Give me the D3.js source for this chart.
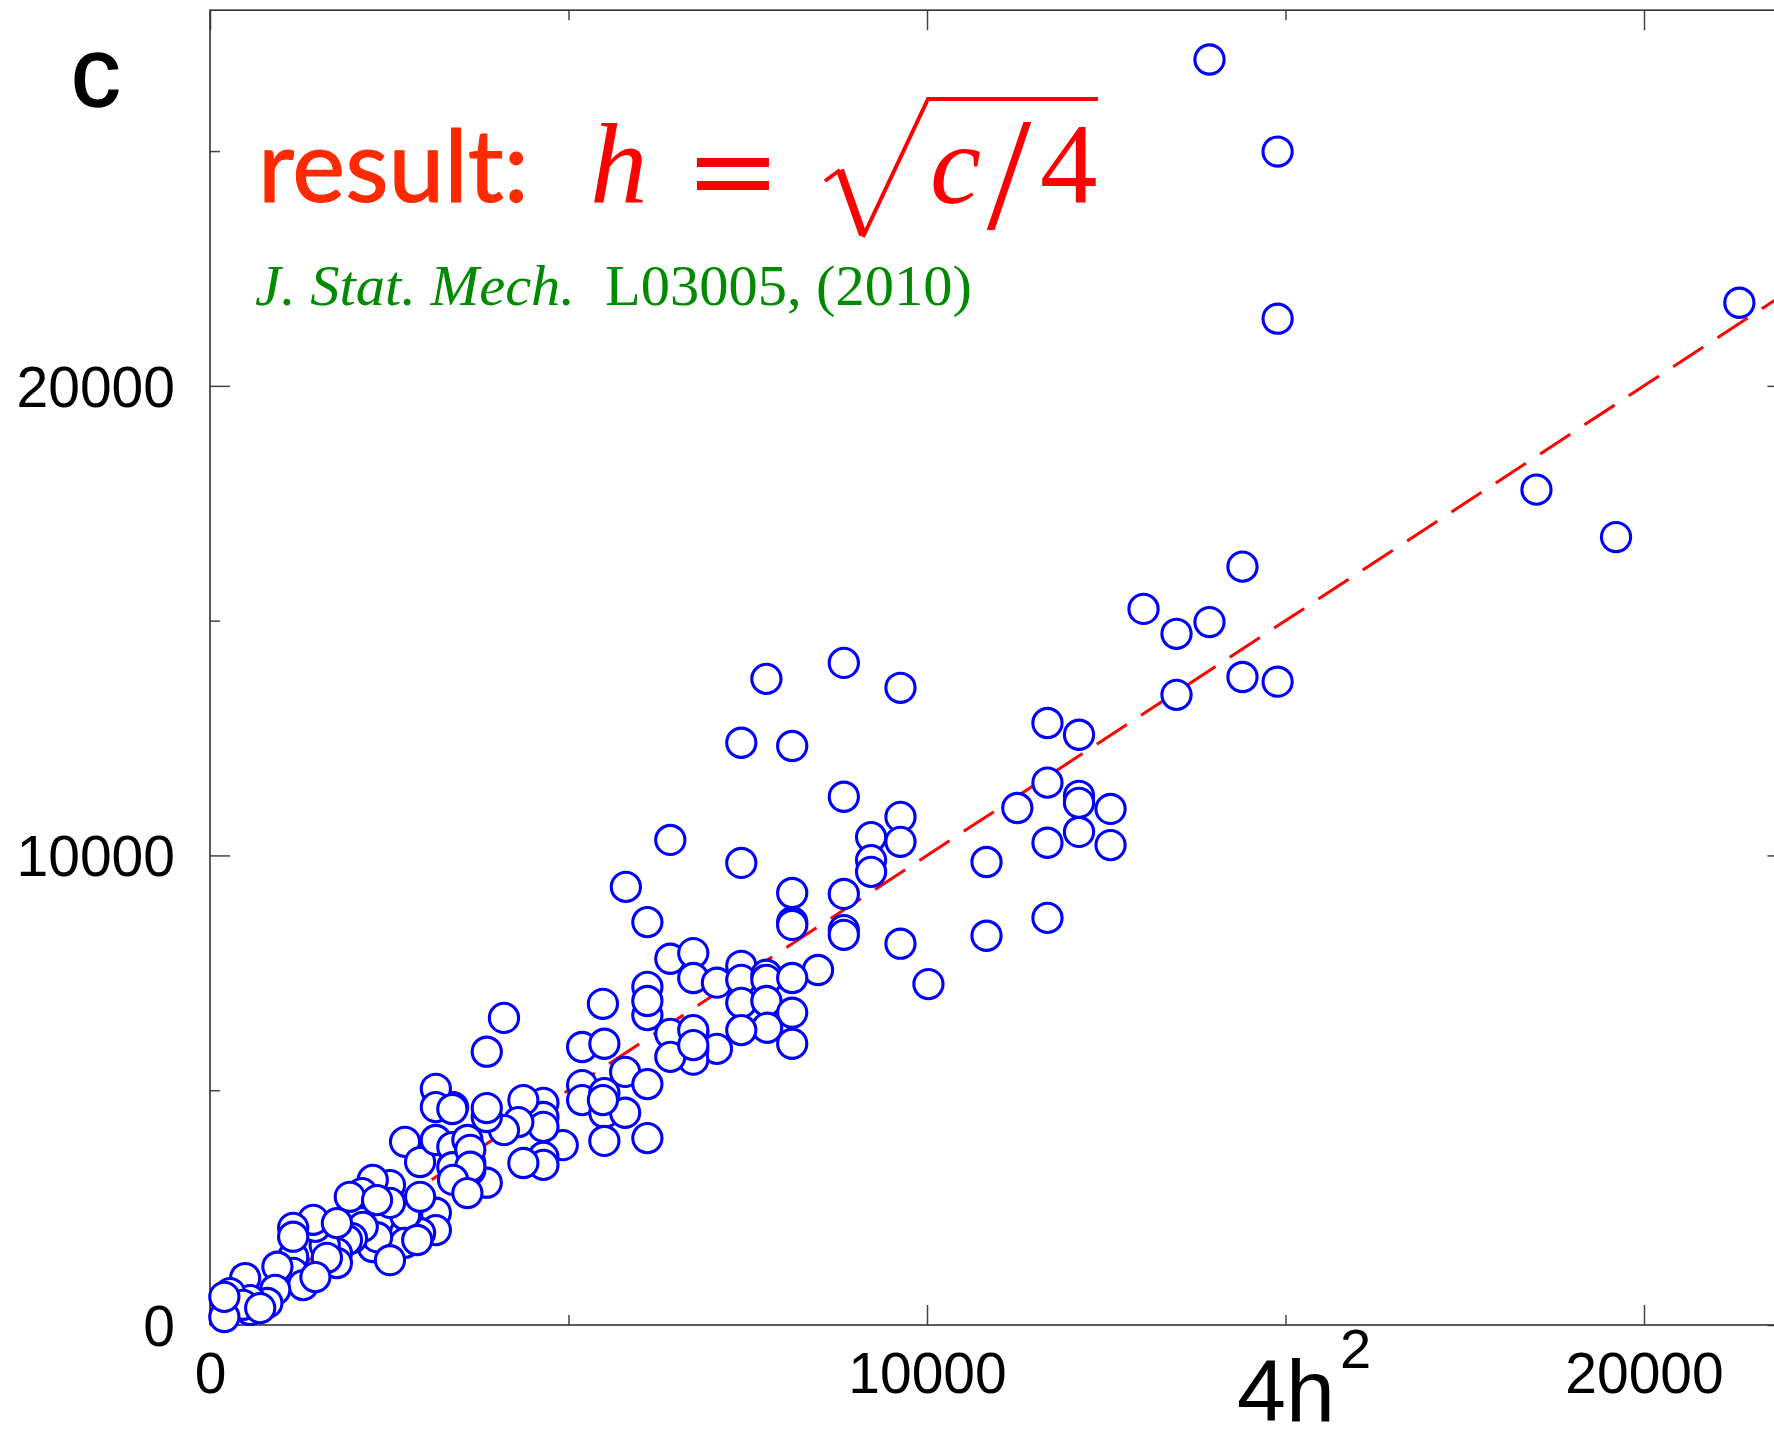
<!DOCTYPE html>
<html>
<head>
<meta charset="utf-8">
<script src="https://cdn.jsdelivr.net/npm/d3@7"></script>
<style>
  body { margin: 0; background: #fff; }
</style>
</head>
<body>
<div id="chart"></div>
<script>
var w = 1774;
var h = 1441;

// x = 4h^2 , y = c  (one pair per circle)
var fourH2 = [13940, 14890, 14890, 21330, 18500, 19610, 14400, 13020, 13480, 13940,
  13480, 14400, 14890, 11680, 12120, 11680, 11260, 12120, 12120, 12560,
  12120, 11680, 12560, 10830, 11680, 10830, 7760, 8840, 9630, 7410,
  8120, 8840, 6420, 7410, 5800, 6100, 9220, 9630, 9630, 9220,
  9220, 8120, 8120, 8120, 8840, 8840, 8840, 9630, 10020, 8480,
  6420, 6740, 6740, 6100, 7070, 7410, 7410, 7760, 7760, 8120,
  7410, 7760, 8120, 5480, 6100, 8120, 7770, 7410, 7070, 6740,
  6740, 6740, 6420, 6420, 4100, 3860, 5190, 5500, 5790, 6100,
  5190, 5190, 5500, 5500, 5790, 5500, 6100, 4920, 4650, 4650,
  4650, 4650, 4650, 4370, 4300, 4370, 4100, 3860, 3860, 3630,
  3630, 3390, 3390, 3150, 3150, 3380, 3860, 5480, 6100, 6740,
  6740, 2720, 2930, 3150, 3380, 3380, 3590, 3630, 3630, 3390,
  3590, 3150, 3150, 2930, 2750, 2720, 2720, 2930, 2510, 2510,
  2270, 2120, 1950, 2330, 2510, 2720, 2890, 2270, 2330, 2130,
  1980, 1910, 1770, 1770, 1600, 1630, 1470, 1440, 1160, 1160,
  1160, 1300, 1470, 940, 910, 800, 490, 560, 560, 280,
  460, 200, 1770, 700, 1160, 2510, 200];

var cVals = [26950, 24990, 21430, 21770, 17790, 16780, 16150, 15250, 14720, 14970,
  13420, 13800, 13700, 12820, 12570, 11550, 11010, 11270, 11120, 10990,
  10500, 10270, 10220, 9860, 8670, 8290, 13760, 14100, 13570, 12400,
  12330, 11250, 10330, 9840, 9330, 8580, 10390, 10820, 10290, 9900,
  9650, 9200, 8580, 8520, 9180, 8410, 8310, 8120, 7260, 7560,
  7800, 7920, 7390, 7200, 7290, 7650, 7350, 7460, 7350, 7390,
  6860, 6900, 6650, 6840, 6600, 5990, 6330, 6280, 5880, 6220,
  5860, 5650, 6200, 5710, 6540, 5820, 5920, 5990, 5390, 5130,
  5110, 4790, 4940, 4520, 4520, 3920, 3980, 3830, 4730, 4430,
  4220, 3580, 3410, 4790, 4320, 3450, 4150, 4430, 3030, 3450,
  3300, 4640, 3410, 5030, 4640, 4600, 4620, 4790, 6900, 6280,
  5960, 3900, 3470, 3940, 3790, 3360, 3940, 3730, 3370, 3090,
  2810, 2390, 2020, 1960, 2390, 1960, 2340, 2730, 2980, 2600,
  3090, 2810, 2730, 2660, 1530, 1750, 1810, 1660, 1870, 2090,
  1850, 1810, 1530, 1320, 1700, 1430, 2090, 2240, 2070, 1450,
  1110, 850, 1020, 1240, 750, 470, 1000, 530, 320, 680,
  430, 170, 2170, 360, 1880, 1380, 600];

var xMajor = [0, 10000, 20000];
var xMinor = [5000, 15000];
var yMajor = [0, 10000, 20000];
var yMinor = [5000, 15000, 25000];
var fitX = [0, 23000];   // c = 4h^2

var points = fourH2.map(function (d, i) { return { x: d, c: cVals[i] }; });

var x = d3.scaleLinear().domain([0, 22000]).range([210, 1787.4]);
var y = d3.scaleLinear().domain([0, 28000]).range([1325, 10.2]);

var svg = d3.select("#chart")
  .append("svg")
  .attr("width", w)
  .attr("height", h)
  .style("display", "block");

var frameTop = y(28000), frameBottom = y(0), frameLeft = x(0), frameRight = x(22000);

// ticks: all pointing inward
function styleAxis(g, fontSize) {
  g.select(".domain").remove();
  g.attr("font-family", "'Liberation Sans', Arial, sans-serif")
    .attr("font-size", fontSize);
  g.selectAll(".tick line").attr("stroke", "#444").attr("stroke-width", 1.5);
  g.selectAll(".tick text").attr("fill", "#000");
}

svg.append("g")
  .attr("transform", "translate(0," + frameBottom + ")")
  .call(d3.axisBottom(x).tickValues(xMajor).tickSize(-20).tickSizeOuter(0).tickPadding(28).tickFormat(d3.format("d")))
  .call(styleAxis, 57);
svg.append("g")
  .attr("transform", "translate(0," + frameBottom + ")")
  .call(d3.axisBottom(x).tickValues(xMinor).tickSize(-10).tickSizeOuter(0).tickFormat(""))
  .call(styleAxis, 57);
svg.append("g")
  .attr("transform", "translate(0," + frameTop + ")")
  .call(d3.axisTop(x).tickValues(xMajor).tickSize(-20).tickSizeOuter(0).tickFormat(""))
  .call(styleAxis, 57);
svg.append("g")
  .attr("transform", "translate(0," + frameTop + ")")
  .call(d3.axisTop(x).tickValues(xMinor).tickSize(-10).tickSizeOuter(0).tickFormat(""))
  .call(styleAxis, 57);

var yAxisG = svg.append("g")
  .attr("transform", "translate(" + frameLeft + ",0)")
  .call(d3.axisLeft(y).tickValues(yMajor).tickSize(-20).tickSizeOuter(0).tickPadding(35).tickFormat(d3.format("d")))
  .call(styleAxis, 57);
yAxisG.selectAll(".tick text").attr("dy", "0.36em");
svg.append("g")
  .attr("transform", "translate(" + frameLeft + ",0)")
  .call(d3.axisLeft(y).tickValues(yMinor).tickSize(-10).tickSizeOuter(0).tickFormat(""))
  .call(styleAxis, 57);
svg.append("g")
  .attr("transform", "translate(" + frameRight + ",0)")
  .call(d3.axisRight(y).tickValues(yMajor).tickSize(-20).tickSizeOuter(0).tickFormat(""))
  .call(styleAxis, 57);
svg.append("g")
  .attr("transform", "translate(" + frameRight + ",0)")
  .call(d3.axisRight(y).tickValues(yMinor).tickSize(-10).tickSizeOuter(0).tickFormat(""))
  .call(styleAxis, 57);

// frame
svg.append("rect")
  .attr("x", frameLeft)
  .attr("y", frameTop)
  .attr("width", frameRight - frameLeft)
  .attr("height", frameBottom - frameTop)
  .attr("fill", "none")
  .attr("stroke", "#333")
  .attr("stroke-width", 1.6);

// clip for the data
svg.append("clipPath").attr("id", "plotClip")
  .append("rect")
  .attr("x", frameLeft - 20).attr("y", frameTop)
  .attr("width", frameRight - frameLeft + 20).attr("height", frameBottom - frameTop + 20);

var plot = svg.append("g").attr("clip-path", "url(#plotClip)");

// fitted line c = 4h^2 (dashed red)
plot.append("line")
  .attr("x1", x(fitX[0])).attr("y1", y(fitX[0]))
  .attr("x2", x(fitX[1])).attr("y2", y(fitX[1]))
  .attr("stroke", "#ff0000")
  .attr("stroke-width", 3)
  .attr("stroke-dasharray", "36,17");

plot.selectAll(".pt")
  .data(points)
  .enter()
  .append("circle")
  .attr("class", "pt")
  .attr("cx", function (d) { return x(d.x); })
  .attr("cy", function (d) { return y(d.c); })
  .attr("r", 14.6)
  .attr("fill", "#fff")
  .attr("stroke", "#0000ff")
  .attr("stroke-width", 3.1);

// panel letter
svg.append("text")
  .attr("x", 71)
  .attr("y", 106)
  .attr("font-family", "'Liberation Sans', Arial, sans-serif")
  .attr("font-size", 99)
  .attr("stroke", "#000")
  .attr("stroke-width", 1.5)
  .text("c");

// x axis label 4h^2 (kept inside the page)
svg.append("text")
  .attr("x", 1237)
  .attr("y", 1421)
  .attr("font-family", "'Liberation Sans', Arial, sans-serif")
  .attr("font-size", 88)
  .text("4h");
svg.append("text")
  .attr("x", 1340)
  .attr("y", 1368)
  .attr("font-family", "'Liberation Sans', Arial, sans-serif")
  .attr("font-size", 56)
  .text("2");

// result: h = sqrt(c/4)
svg.append("text")
  .attr("x", 258)
  .attr("y", 202)
  .attr("font-family", "Lato, 'Open Sans', sans-serif")
  .attr("font-size", 100)
  .attr("fill", "#ff2a00")
  .attr("stroke", "#ff2a00")
  .attr("stroke-width", 1.2)
  .text("result:");

var serif = "'Liberation Serif', 'Times New Roman', serif";
svg.append("text")
  .attr("x", 590).attr("y", 203)
  .attr("font-family", serif).attr("font-style", "italic")
  .attr("font-size", 115).attr("fill", "#ff0000")
  .text("h");
svg.append("text")
  .attr("x", 733).attr("y", 210)
  .attr("text-anchor", "middle")
  .attr("font-family", "'DejaVu Serif', serif")
  .attr("font-size", 115).attr("fill", "#ff0000")
  .text("=");
svg.append("path")
  .attr("d", "M825,181 L840,170")
  .attr("stroke", "#ff0000").attr("stroke-width", 4).attr("fill", "none");
svg.append("path")
  .attr("d", "M840,170 L863,235")
  .attr("stroke", "#ff0000").attr("stroke-width", 8).attr("fill", "none");
svg.append("path")
  .attr("d", "M863,237 L928,99 L1098,99")
  .attr("stroke", "#ff0000").attr("stroke-width", 4).attr("fill", "none");
svg.append("text")
  .attr("x", 930).attr("y", 203)
  .attr("font-family", serif).attr("font-style", "italic")
  .attr("font-size", 115).attr("fill", "#ff0000")
  .text("c");
svg.append("text")
  .attr("x", 1009).attr("y", 228)
  .attr("text-anchor", "middle")
  .attr("font-family", serif)
  .attr("font-size", 160).attr("fill", "#ff0000")
  .text("/");
svg.append("text")
  .attr("x", 1040).attr("y", 203)
  .attr("font-family", serif)
  .attr("font-size", 115).attr("fill", "#ff0000")
  .text("4");

// reference
svg.append("text")
  .attr("x", 255).attr("y", 305)
  .attr("font-family", serif).attr("font-style", "italic")
  .attr("font-size", 57).attr("fill", "#008a00")
  .attr("textLength", 320).attr("lengthAdjust", "spacingAndGlyphs")
  .text("J. Stat. Mech.");
svg.append("text")
  .attr("x", 605).attr("y", 305)
  .attr("font-family", serif)
  .attr("font-size", 57).attr("fill", "#008a00")
  .attr("textLength", 367).attr("lengthAdjust", "spacingAndGlyphs")
  .text("L03005, (2010)");
</script>
</body>
</html>
